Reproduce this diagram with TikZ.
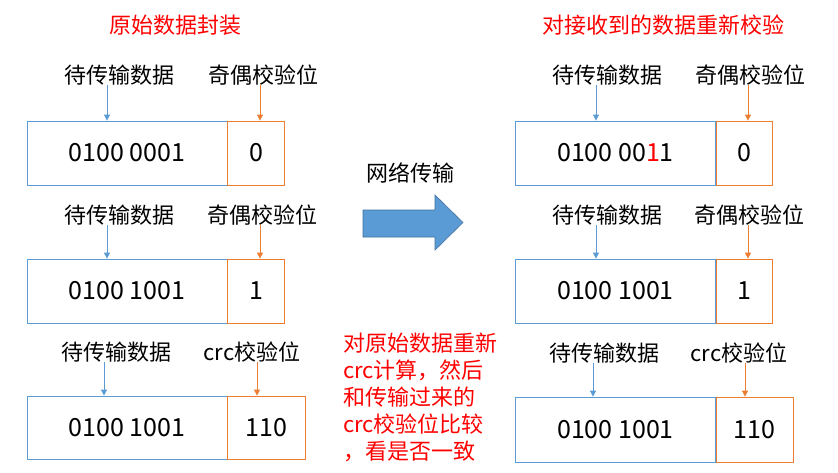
\documentclass[tikz,border=0pt]{standalone}
\usepackage{fontspec}
\newfontfamily\cjk{Noto Sans CJK SC}
\usetikzlibrary{positioning,arrows.meta}
\definecolor{lineblue}{HTML}{5B9BD5}
\definecolor{lineorange}{HTML}{ED7D31}
\definecolor{edgeblue}{HTML}{41719C}

\begin{document}
\begin{tikzpicture}[x=1pt,y=-1pt]
    \tikzstyle{every node} = [font=\cjk\fontsize{22}{27}\selectfont, inner sep=0pt]
    \tikzstyle{title} = [text=red]
    \tikzstyle{databox} = [draw=lineblue, line width=0.8pt, minimum width=200pt, minimum height=64pt, font=\cjk\fontsize{25}{29}\selectfont]
    \tikzstyle{checkbox} = [draw=lineorange, line width=0.8pt, minimum height=64pt, font=\cjk\fontsize{25}{29}\selectfont]
    \tikzstyle{bluearrow} = [draw=lineblue, line width=0.8pt, -{Triangle[width=6pt,length=6pt]}]
    \tikzstyle{orangearrow} = [draw=lineorange, line width=0.8pt, -{Triangle[width=6pt,length=6pt]}]
    \fill[white] (0,0) rectangle (838,472);
    % titles
    \node[title] (titleSend) at (175,25) {原始数据封装};
    \node[title] (titleRecv) at (663,25) {对接收到的数据重新校验};

    % sender side
    \node[databox] (dataA) at (127,153) {0100 0001};
    \node[checkbox, minimum width=57pt, right=0pt of dataA] (bitA) {0};
    \node (labelDataA) at (119,75) {待传输数据};
    \node (labelBitA) at (263,75) {奇偶校验位};
    \node[databox] (dataB) at (127,291) {0100 1001};
    \node[checkbox, minimum width=57pt, right=0pt of dataB] (bitB) {1};
    \node (labelDataB) at (119,215) {待传输数据};
    \node (labelBitB) at (262,215) {奇偶校验位};
    \node[databox, minimum height=63pt] (dataC) at (127,427.5) {0100 1001};
    \node[checkbox, minimum width=78pt, minimum height=63pt, right=0pt of dataC] (bitC) {110};
    \node (labelDataC) at (116,352) {待传输数据};
    \node (labelBitC) at (252,352) {crc校验位};

    % receiver side
    \node[databox] (dataD) at (615.5,153) {0100 00\textcolor{red}{1}1};
    \node[checkbox, minimum width=56pt, right=0pt of dataD] (bitD) {0};
    \node (labelDataD) at (607,75) {待传输数据};
    \node (labelBitD) at (750,75) {奇偶校验位};
    \node[databox] (dataE) at (615.5,291) {0100 1001};
    \node[checkbox, minimum width=56pt, right=0pt of dataE] (bitE) {1};
    \node (labelDataE) at (607,215) {待传输数据};
    \node (labelBitE) at (749,215) {奇偶校验位};
    \node[databox, minimum height=65pt] (dataF) at (615.5,429.5) {0100 1001};
    \node[checkbox, minimum width=77pt, minimum height=65pt, right=0pt of dataF] (bitF) {110};
    \node (labelDataF) at (604,353) {待传输数据};
    \node (labelBitF) at (739,353) {crc校验位};

    % label arrows
    \draw[bluearrow] ([xshift=-12pt]labelDataA.south) -- ([xshift=-12pt]labelDataA.south |- dataA.north);
    \draw[orangearrow] ([xshift=-3pt]labelBitA.south) -- ([xshift=-3pt]labelBitA.south |- bitA.north);
    \draw[bluearrow] ([xshift=-12pt]labelDataB.south) -- ([xshift=-12pt]labelDataB.south |- dataB.north);
    \draw[orangearrow] ([xshift=-2pt]labelBitB.south) -- ([xshift=-2pt]labelBitB.south |- bitB.north);
    \draw[bluearrow] ([xshift=-12pt]labelDataC.south) -- ([xshift=-12pt]labelDataC.south |- dataC.north);
    \draw[orangearrow] ([xshift=5pt]labelBitC.south) -- ([xshift=5pt]labelBitC.south |- bitC.north);
    \draw[bluearrow] ([xshift=-11pt]labelDataD.south) -- ([xshift=-11pt]labelDataD.south |- dataD.north);
    \draw[orangearrow] ([xshift=-2pt]labelBitD.south) -- ([xshift=-2pt]labelBitD.south |- bitD.north);
    \draw[bluearrow] ([xshift=-11pt]labelDataE.south) -- ([xshift=-11pt]labelDataE.south |- dataE.north);
    \draw[orangearrow] ([xshift=-1pt]labelBitE.south) -- ([xshift=-1pt]labelBitE.south |- bitE.north);
    \draw[bluearrow] ([xshift=-11pt]labelDataF.south) -- ([xshift=-11pt]labelDataF.south |- dataF.north);
    \draw[orangearrow] ([xshift=6pt]labelBitF.south) -- ([xshift=6pt]labelBitF.south |- bitF.north);

    % network transfer
    \node (labelNet) at (410,173) {网络传输};
    \filldraw[fill=lineblue, draw=edgeblue, line width=0.6pt]
    (363,210) -- (435,210) -- (435,195) -- (463,222.5) -- (435,250) -- (435,237) -- (363,237) -- cycle;
    \node[text=red, align=left, anchor=north west] (noteCrc) at (343,333)
    {对原始数据重新\\crc计算，然后\\和传输过来的\\crc校验位比较\\，看是否一致};
\end{tikzpicture}
\end{document}
